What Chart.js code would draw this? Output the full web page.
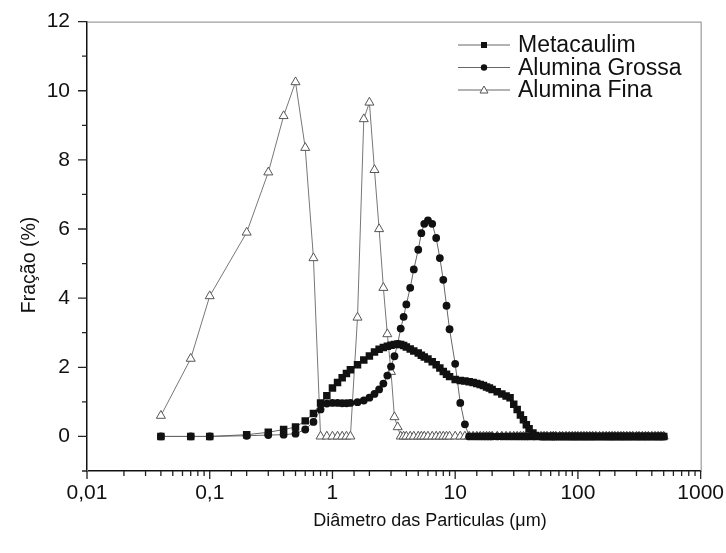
<!DOCTYPE html>
<html>
<head>
<meta charset="utf-8">
<script src="https://cdn.jsdelivr.net/npm/chart.js@4.4.1/dist/chart.umd.min.js"></script>
<style>
  html, body { margin: 0; padding: 0; background: #fff; }
  #wrap { width: 726px; height: 553px; }
</style>
</head>
<body>
<div id="wrap"><canvas id="graf" width="726" height="553"></canvas></div>
<script>
// classes de diâmetro (µm)
var diametros = [0.04, 0.07, 0.1, 0.2, 0.3, 0.4, 0.5, 0.6, 0.7, 0.8,
  0.9, 1.0, 1.1, 1.2, 1.3, 1.4, 1.6, 1.8, 2.0, 2.2,
  2.4, 2.6, 2.8, 3.0, 3.2, 3.4, 3.6, 3.8, 4.0, 4.3,
  4.6, 5.0, 5.3, 5.6, 6.0, 6.5, 7.0, 7.5, 8.0, 8.5,
  9.0, 10, 11, 12, 13, 14, 15, 16, 17, 18,
  19, 20, 22, 24, 26, 28, 30, 32, 34, 36,
  38, 40, 43, 45, 50, 53, 56, 60, 63, 66,
  71, 75, 80, 85, 90, 95, 100, 106, 112, 118,
  125, 132, 140, 150, 160, 170, 180, 190, 200, 212,
  224, 236, 250, 265, 280, 300, 315, 335, 355, 375,
  400, 425, 450, 475, 500];

// fração retida (%) por classe
var metacaulim = [0, 0, 0, 0.05, 0.12, 0.2, 0.27, 0.45, 0.66, 0.97,
  1.18, 1.40, 1.56, 1.70, 1.82, 1.93, 2.07, 2.21, 2.33, 2.44,
  2.52, 2.57, 2.61, 2.64, 2.66, 2.67, 2.66, 2.63, 2.59, 2.53,
  2.47, 2.41, 2.35, 2.30, 2.24, 2.16, 2.07, 1.98, 1.88, 1.80,
  1.73, 1.65, 1.62, 1.60, 1.58, 1.56, 1.53, 1.50, 1.47, 1.43,
  1.40, 1.36, 1.29, 1.23, 1.17, 1.12, 0.93, 0.78, 0.62, 0.48,
  0.34, 0.22, 0.10, 0.03, 0, 0, 0, 0, 0, 0,
  0, 0, 0, 0, 0, 0, 0, 0, 0, 0,
  0, 0, 0, 0, 0, 0, 0, 0, 0, 0,
  0, 0, 0, 0, 0, 0, 0, 0, 0, 0,
  0, 0, 0, 0, 0];

var aluminaGrossa = [0, 0, 0, 0.02, 0.04, 0.05, 0.08, 0.2, 0.42, 0.78,
  0.95, 0.97, 0.97, 0.96, 0.96, 0.97, 0.99, 1.04, 1.12, 1.23,
  1.36, 1.53, 1.76, 2.02, 2.32, 2.68, 3.12, 3.46, 3.82, 4.30,
  4.83, 5.40, 5.88, 6.15, 6.25, 6.15, 5.74, 5.16, 4.53, 3.78,
  3.10, 2.10, 0.97, 0.35, 0, 0, 0, 0, 0, 0,
  0, 0, 0, 0, 0, 0, 0, 0, 0, 0,
  0, 0, 0, 0, 0, 0, 0, 0, 0, 0,
  0, 0, 0, 0, 0, 0, 0, 0, 0, 0,
  0, 0, 0, 0, 0, 0, 0, 0, 0, 0,
  0, 0, 0, 0, 0, 0, 0, 0, 0, 0,
  0, 0, 0, 0, 0];

var aluminaFina = [0.6, 2.25, 4.06, 5.9, 7.64, 9.27, 10.25, 8.35, 5.16, 0,
  0, 0, 0, 0, 0, 0, 3.44, 9.18, 9.66, 7.71,
  6.0, 4.3, 2.96, 1.87, 0.56, 0.27, 0, 0, 0, 0,
  0, 0, 0, 0, 0, 0, 0, 0, 0, 0,
  0, 0, 0, 0, 0, 0, 0, 0, 0, 0,
  0, 0, 0, 0, 0, 0, 0, 0, 0, 0,
  0, 0, 0, 0, 0, 0, 0, 0, 0, 0,
  0, 0, 0, 0, 0, 0, 0, 0, 0, 0,
  0, 0, 0, 0, 0, 0, 0, 0, 0, 0,
  0, 0, 0, 0, 0, 0, 0, 0, 0, 0,
  0, 0, 0, 0, 0];

var nomes = ['Metacaulim', 'Alumina Grossa', 'Alumina Fina'];
var tituloX = 'Diâmetro das Particulas (μm)';
var tituloY = 'Fração (%)';
var fonte = 'Liberation Sans, Arial, sans-serif';

function pares(vals) {
  return diametros.map(function(d, i) { return { x: d, y: vals[i] }; });
}

function ehDecada(v) {
  var l = Math.log10(v);
  return Math.abs(l - Math.round(l)) < 1e-6;
}

function rotuloDecada(v) {
  var e = Math.round(Math.log10(v));
  if (e < 0) return '0,' + '0'.repeat(-e - 1) + '1';
  return '1' + '0'.repeat(e);
}

// moldura, marcas de escala e títulos dos eixos
var marcas = {
  id: 'marcas',
  beforeDatasetsDraw: function(chart) {
    var ctx = chart.ctx, a = chart.chartArea;
    var sx = chart.scales.x, sy = chart.scales.y;
    ctx.save();
    ctx.strokeStyle = '#888';
    ctx.lineWidth = 1;
    ctx.strokeRect(a.left + 0.5, a.top + 0.5, a.right - a.left, a.bottom - a.top);
    ctx.strokeStyle = '#222';
    ctx.lineWidth = 1.3;
    ctx.beginPath();
    sx.ticks.forEach(function(t) {
      var px = sx.getPixelForValue(t.value);
      ctx.moveTo(px, a.bottom);
      ctx.lineTo(px, a.bottom + (ehDecada(t.value) ? 8 : 5));
    });
    sy.ticks.forEach(function(t) {
      var py = sy.getPixelForValue(t.value);
      ctx.moveTo(a.left, py);
      ctx.lineTo(a.left - (t.value % 2 === 0 ? 9 : 5), py);
    });
    ctx.stroke();

    ctx.fillStyle = '#111';
    ctx.textAlign = 'center';
    ctx.textBaseline = 'middle';
    ctx.font = '18px ' + fonte;
    ctx.fillText(tituloX, 430, 521);
    ctx.translate(30, 265);
    ctx.rotate(-Math.PI / 2);
    ctx.font = '19.5px ' + fonte;
    ctx.fillText(tituloY, 0, 0);
    ctx.restore();
  }
};

function simbolo(ctx, tipo, x, y) {
  ctx.beginPath();
  if (tipo === 'rect') {
    ctx.fillStyle = '#111';
    ctx.fillRect(x - 3, y - 3, 6, 6);
  } else if (tipo === 'circle') {
    ctx.fillStyle = '#111';
    ctx.arc(x, y, 3.2, 0, Math.PI * 2);
    ctx.fill();
  } else {
    ctx.fillStyle = '#fff';
    ctx.strokeStyle = '#555';
    ctx.lineWidth = 1;
    ctx.moveTo(x, y - 4);
    ctx.lineTo(x + 4, y + 3);
    ctx.lineTo(x - 4, y + 3);
    ctx.closePath();
    ctx.fill();
    ctx.stroke();
  }
}

// legenda no canto superior direito
var legenda = {
  id: 'legenda',
  afterDraw: function(chart) {
    var ctx = chart.ctx;
    ctx.save();
    chart.data.datasets.forEach(function(ds, i) {
      var y = 45 + i * 22.5;
      ctx.strokeStyle = '#666';
      ctx.lineWidth = 1;
      ctx.beginPath();
      ctx.moveTo(458, y);
      ctx.lineTo(510, y);
      ctx.stroke();
      simbolo(ctx, ds.pointStyle, 484, y);
      ctx.fillStyle = '#111';
      ctx.font = '23px ' + fonte;
      ctx.textBaseline = 'middle';
      ctx.textAlign = 'left';
      ctx.fillText(ds.label, 518, y + 1);
    });
    ctx.restore();
  }
};

var ctx = document.getElementById('graf');
var grafico = new Chart(ctx, {
  type: 'line',
  data: {
    datasets: [{
      label: nomes[0],
      data: pares(metacaulim),
      borderColor: '#666',
      borderWidth: 1,
      pointStyle: 'rect',
      pointRadius: 5.3,
      pointBackgroundColor: '#111',
      pointBorderColor: '#111',
      pointBorderWidth: 0
    }, {
      label: nomes[1],
      data: pares(aluminaGrossa),
      borderColor: '#666',
      borderWidth: 1,
      pointStyle: 'circle',
      pointRadius: 3.9,
      pointBackgroundColor: '#111',
      pointBorderColor: '#111',
      pointBorderWidth: 0
    }, {
      label: nomes[2],
      data: pares(aluminaFina),
      borderColor: '#777',
      borderWidth: 1,
      pointStyle: 'triangle',
      pointRadius: 5.2,
      pointBackgroundColor: '#fff',
      pointBorderColor: '#555',
      pointBorderWidth: 1
    }]
  },
  options: {
    responsive: false,
    animation: false,
    layout: { padding: { left: 0, right: 23, top: 12, bottom: 0 } },
    plugins: {
      legend: { display: false },
      tooltip: { enabled: false }
    },
    elements: { line: { tension: 0 } },
    scales: {
      x: {
        type: 'logarithmic',
        min: 0.01,
        max: 1000,
        grid: { display: false },
        border: { display: true, color: '#111', width: 1.5 },
        ticks: {
          autoSkip: false,
          maxRotation: 0,
          padding: 2,
          color: '#111',
          font: { family: fonte, size: 21 },
          callback: function(v) { return ehDecada(v) ? rotuloDecada(v) : ''; }
        },
        afterFit: function(s) { s.height = 82; }
      },
      y: {
        min: -1,
        max: 12,
        grid: { display: false },
        border: { display: true, color: '#111', width: 1.5 },
        ticks: {
          stepSize: 1,
          padding: 9,
          color: '#111',
          font: { family: fonte, size: 21 },
          callback: function(v) { return (v >= 0 && v % 2 === 0) ? v : ''; }
        },
        afterFit: function(s) { s.width = 87; }
      }
    }
  },
  plugins: [marcas, legenda]
});
</script>
</body>
</html>
